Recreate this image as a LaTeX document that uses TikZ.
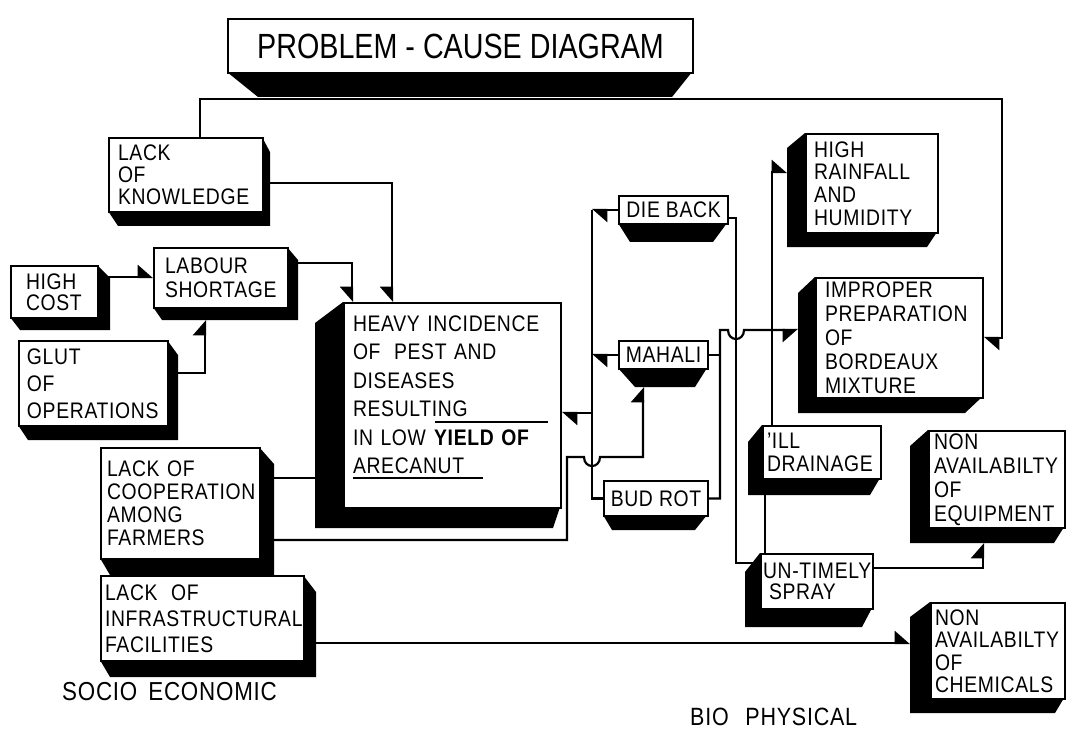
\documentclass[tikz,border=0pt]{standalone}
\usepackage{fontspec}
\setmainfont{Liberation Sans}[FakeStretch=0.86, LetterSpace=3]
\newfontfamily\ttlfont{Liberation Sans}[FakeStretch=0.82]
\usetikzlibrary{arrows.meta}
\newcommand\bxfont[1]{\fontsize{22.5}{#1}\selectfont}
% box node: name, x1, y1, x2, y2, xsep, extra options, text
\newcommand\cbox[8]{%
 \pgfmathsetmacro\cbTW{#4-#2-2*#6}%
 \pgfmathsetmacro\cbBH{#5-#3}%
 \node[cbx, inner xsep=#6pt, text width=\cbTW pt, minimum height=\cbBH pt, #7] (#1) at (#2,#3) {#8};}
% shadows: x1 y1 x2 y2 sx sy c
\newcommand\shBR[7]{\fill[black] (#3,#2) -- ({#3+#5},{#2+#6}) -- ({#3+#5},{#4+#6}) -- ({#1+#7},{#4+#6}) -- (#1,#4) -- (#3,#4) -- cycle;}
\newcommand\shBL[7]{\fill[black] (#1,#2) -- ({#1-#5},{#2+#6}) -- ({#1-#5},{#4+#6}) -- ({#3-#7},{#4+#6}) -- (#3,#4) -- (#1,#4) -- cycle;}
\newcommand\shB[7]{\fill[black] (#1,#4) -- ({#1+#5},{#4+#6}) -- ({#3-#7},{#4+#6}) -- (#3,#4) -- cycle;}
\tikzset{
 cbx/.style={draw, line width=2pt, fill=white, anchor=north west, align=left, inner ysep=2pt, font=\bxfont{24}},
 one/.style={cbx, inner sep=0pt, align=center},
 lbl/.style={anchor=west, inner sep=0pt, font=\fontsize{26}{30}\selectfont},
 conn/.style={line width=2.2pt},
 arrL/.style={conn, -{Triangle[length=14pt,width=24pt,left]}},
 arrR/.style={conn, -{Triangle[length=14pt,width=24pt,right]}},
}
\begin{document}
\begin{tikzpicture}[x=1pt, y=-1pt]
\fill[white] (0,0) rectangle (1067,735);
\useasboundingbox (0,0) rectangle (1067,735);

% ---------- socio-economic boxes ----------
\shBR{108}{137}{262}{211}{8}{15}{10}
\cbox{know}{108}{137}{262}{211}{9}{font=\bxfont{22}}{LACK\\OF\\KNOWLEDGE}

\shBR{10}{265}{97}{317}{13}{13}{10}
\cbox{hcost}{10}{265}{97}{317}{15}{font=\bxfont{21}}{HIGH\\COST}

\shBR{153}{247}{287}{307}{11}{13}{9}
\cbox{labour}{153}{247}{287}{307}{11}{}{LABOUR\\SHORTAGE}

\shBR{18}{340}{167}{425}{11}{15}{10}
\cbox{glut}{18}{340}{167}{425}{8}{font=\bxfont{27}}{GLUT\\OF\\OPERATIONS}

\shBR{100}{447}{259}{558}{15}{17}{10}
\cbox{coop}{100}{447}{259}{558}{6}{font=\bxfont{23}}{\mbox{LACK OF}\\COOPERATION\\AMONG\\FARMERS}

\shBR{100}{575}{303}{660}{13}{17}{10}
\cbox{infra}{100}{575}{303}{660}{4}{font=\bxfont{26}}{\mbox{LACK\hspace{6pt} OF}\\INFRASTRUCTURAL\\FACILITIES}

% ---------- central box ----------
\shBL{343}{302}{560}{507}{28}{21}{7}
\cbox{heavy}{343}{302}{560}{507}{9}{font=\bxfont{28.5}}{\mbox{HEAVY INCIDENCE}\\\mbox{OF\hspace{6pt} PEST AND}\\DISEASES\\RESULTING\\\mbox{IN LOW \textbf{YIELD OF}}\\ARECANUT\rule[-22pt]{0pt}{22pt}}
\draw[line width=1.5pt] ([xshift=92pt,yshift=-120pt]heavy.north west) -- ([xshift=205pt,yshift=-120pt]heavy.north west);
\draw[line width=1.5pt] ([xshift=10pt,yshift=-176pt]heavy.north west) -- ([xshift=140pt,yshift=-176pt]heavy.north west);

% ---------- diseases ----------
\shB{618}{195}{727}{223}{12}{19}{14}
\node[one, minimum width=109pt, minimum height=28pt] (diebk) at (618,195) {DIE\hspace{6pt}BACK};
\shB{618}{340}{707}{368}{17}{19}{12}
\node[one, minimum width=89pt, minimum height=28pt] (mahali) at (618,340) {MAHALI};
\shB{603}{480}{707}{515}{9}{15}{12}
\node[one, minimum width=104pt, minimum height=35pt] (budrot) at (603,480) {BUD ROT};

% ---------- bio-physical boxes ----------
\shBL{805}{133}{937}{232}{18}{15}{10}
\cbox{rain}{805}{133}{937}{232}{8}{font=\bxfont{22.7}}{HIGH\\RAINFALL\\AND\\HUMIDITY}

\shBL{815}{277}{982}{397}{17}{16}{17}
\cbox{improper}{815}{277}{982}{397}{9}{}{IMPROPER\\PREPARATION\\OF\\BORDEAUX\\MIXTURE}

\shBL{762}{425}{880}{478}{14}{17}{10}
\cbox{ill}{762}{425}{880}{478}{4}{font=\bxfont{23}}{'ILL\\DRAINAGE}

\shBL{760}{553}{872}{608}{15}{19}{10}
\cbox{untimely}{760}{553}{872}{608}{2}{font=\bxfont{21}}{\mbox{UN-TIMELY}\\\hspace*{6pt}SPRAY}

\shBL{928}{430}{1064}{527}{18}{16}{10}
\cbox{equip}{928}{430}{1064}{527}{5}{}{NON\\AVAILABILTY\\OF\\EQUIPMENT}

\shBL{930}{602}{1064}{698}{20}{15}{9}
\cbox{chem}{930}{602}{1064}{698}{4}{font=\bxfont{22.5}}{NON\\AVAILABILTY\\OF\\CHEMICALS}

% ---------- free ends ----------
\coordinate (lbS) at (205,320);
\coordinate (mhS) at (643,387);
\coordinate (hrW) at (787,172);
\coordinate (imW) at (798,330);
\coordinate (eqS) at (983,543);
\coordinate (chW) at (910,643);
\coordinate (tr) at (1002,99);
\coordinate (b1) at (diebk.west -| 592,0);
\coordinate (b2) at (budrot.west -| 592,0);

% ---------- connectors ----------
\draw[arrL] (hcost.east |- 0,277) -- (labour.west |- 0,277);
\draw[arrL] (glut.east |- 0,373) -| (lbS);
\draw[arrR] (labour.east |- 0,263) -| ([xshift=9pt]heavy.north west);
\draw[arrR] (know.east |- 0,183) -| ([xshift=49pt]heavy.north west);
\draw[conn] (coop.east |- 0,478) -- (heavy.west |- 0,478);
\draw[arrL] (know.north -| 200,0) |- (tr) |- (improper.east);

\draw[arrL] (diebk.west) -- (b1);
\draw[conn] (b1) -- (b2) -- (budrot.west);
\draw[arrL] (mahali.west) -- (mahali.west -| b1);
\draw[arrL] (b1 |- 0,413) -- (heavy.east |- 0,413);

\draw[arrL] (coop.east |- 0,540) -| (567,457) -- (584,457) .. controls (584,469) and (600,469) .. (600,457) -- (643,457) -- (mhS);

\draw[conn] (mahali.east) -- (mahali.east -| 720,0);
\draw[arrR] (budrot.east) -| (720,330) -- (728,330) .. controls (728,342) and (744,342) .. (744,330) -- (imW);
\draw[conn] (diebk.east |- 0,218) -| (736,563) -- (untimely.west |- 0,563);

\draw[arrL] (ill.north -| 772,0) |- (hrW);
\draw[conn] (ill.south -| 765,0) -- (untimely.north -| 765,0);
\draw[arrL] (untimely.east |- 0,568) -| (eqS);
\draw[arrL] (infra.east |- 0,643) -- (chW);

% ---------- title ----------
\shB{227}{18}{692}{72}{31}{25}{20}
\node[one, minimum width=465pt, minimum height=54pt, font=\ttlfont\fontsize{35}{40}\selectfont] (title) at (227,18) {PROBLEM - CAUSE DIAGRAM};

% ---------- group labels ----------
\node[lbl] (soc) at (62,692) {SOCIO\hspace{4pt} ECONOMIC};
\node[lbl, font=\fontsize{25}{28}\selectfont] (bio) at (690,717) {BIO\hspace{10pt} PHYSICAL};
\end{tikzpicture}
\end{document}
